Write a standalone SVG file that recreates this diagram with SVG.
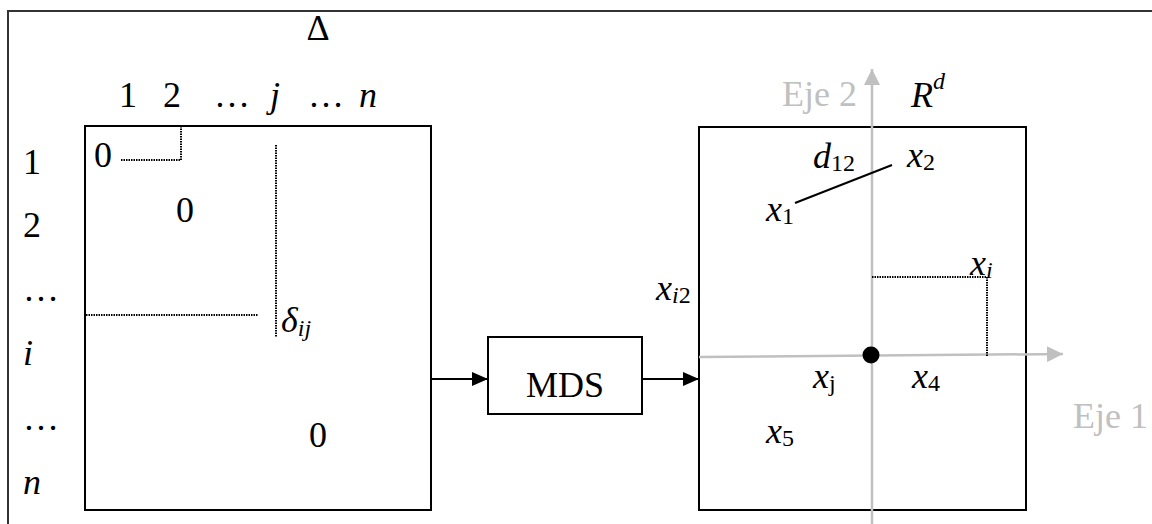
<svg xmlns="http://www.w3.org/2000/svg" width="1152" height="524" viewBox="0 0 1152 524">
<defs>
<style>
text{font-family:"Liberation Serif","Times New Roman",serif;font-size:36px;fill:#000}
.it{font-style:italic}
.sub{font-size:24px;font-style:normal}
.gray{fill:#c0c0c0}
.box{fill:none;stroke:#000;stroke-width:2}
.dot{fill:none;stroke:#000;stroke-width:2;stroke-dasharray:1.5 1}
.axis{stroke:#c0c0c0;stroke-width:2.5;fill:none}
</style>
<marker id="ah" viewBox="0 0 16 14" refX="16" refY="7" markerWidth="16" markerHeight="14" markerUnits="userSpaceOnUse" orient="auto">
<path d="M0,0 L16,7 L0,14 Z" fill="#000"/>
</marker>
<marker id="ag" viewBox="0 0 16 16" refX="16" refY="8" markerWidth="16" markerHeight="16" markerUnits="userSpaceOnUse" orient="auto">
<path d="M0,0 L16,8 L0,16 Z" fill="#c0c0c0"/>
</marker>
</defs>
<rect x="8" y="11" width="1160" height="530" fill="none" stroke="#333" stroke-width="2"/>

<g id="matrix">
<text x="318" y="40" text-anchor="middle">Δ</text>
<text x="119" y="107">1</text>
<text x="163" y="107">2</text>
<text x="214" y="107">…</text>
<text x="270" y="107" class="it">j</text>
<text x="308" y="107">…</text>
<text x="359" y="107" class="it">n</text>
<text x="23" y="174">1</text>
<text x="23" y="237">2</text>
<text x="23" y="301">…</text>
<text x="23" y="365" class="it">i</text>
<text x="23" y="430">…</text>
<text x="23" y="494" class="it">n</text>
<rect class="box" x="85" y="126" width="346" height="384"/>
<text x="94" y="167">0</text>
<text x="176" y="222">0</text>
<text x="309" y="447">0</text>
<path class="dot" d="M121,160 H181 V126"/>
<path class="dot" d="M276,145 V337"/>
<path class="dot" d="M86,315 H258"/>
<text x="281" y="332" class="it">δ<tspan class="sub it" style="font-style:italic" dy="4">ij</tspan></text>
</g>

<g id="mds">
<rect class="box" x="488" y="337" width="154" height="77"/>
<text x="565" y="397" text-anchor="middle">MDS</text>
</g>

<g id="space">
<rect class="box" x="699" y="127" width="327" height="383"/>
<path class="axis" d="M699,357 L1063,354" marker-end="url(#ag)"/>
<path class="axis" d="M872,524 V69" marker-end="url(#ag)"/>
<circle cx="871" cy="355" r="8.5" fill="#000"/>
<text x="857" y="106" text-anchor="end" class="gray">Eje 2</text>
<text x="1073" y="428" class="gray">Eje 1</text>
<text x="911" y="107" class="it">R<tspan class="sub" style="font-style:italic" dy="-18">d</tspan></text>
<text x="813" y="168" class="it">d<tspan class="sub" dy="3">12</tspan></text>
<text x="907" y="167" class="it">x<tspan class="sub" dy="3">2</tspan></text>
<line x1="795" y1="203" x2="892" y2="165" stroke="#000" stroke-width="2"/>
<text x="766" y="221" class="it">x<tspan class="sub" dy="3">1</tspan></text>
<text x="970" y="275" class="it">x<tspan class="sub" style="font-style:italic" dy="3">i</tspan></text>
<path class="dot" d="M872,277 H987 V357"/>
<text x="656" y="300" class="it">x<tspan class="sub" style="font-style:italic" dy="3">i</tspan><tspan class="sub" dy="0">2</tspan></text>
<text x="813" y="388" class="it">x<tspan class="sub" dy="3">j</tspan></text>
<text x="912" y="388" class="it">x<tspan class="sub" dy="3">4</tspan></text>
<text x="766" y="443" class="it">x<tspan class="sub" dy="3">5</tspan></text>
</g>

<g id="connectors">
<line x1="431" y1="379" x2="488" y2="379" stroke="#000" stroke-width="2" marker-end="url(#ah)"/>
<line x1="642" y1="379" x2="699" y2="379" stroke="#000" stroke-width="2" marker-end="url(#ah)"/>
</g>
</svg>
